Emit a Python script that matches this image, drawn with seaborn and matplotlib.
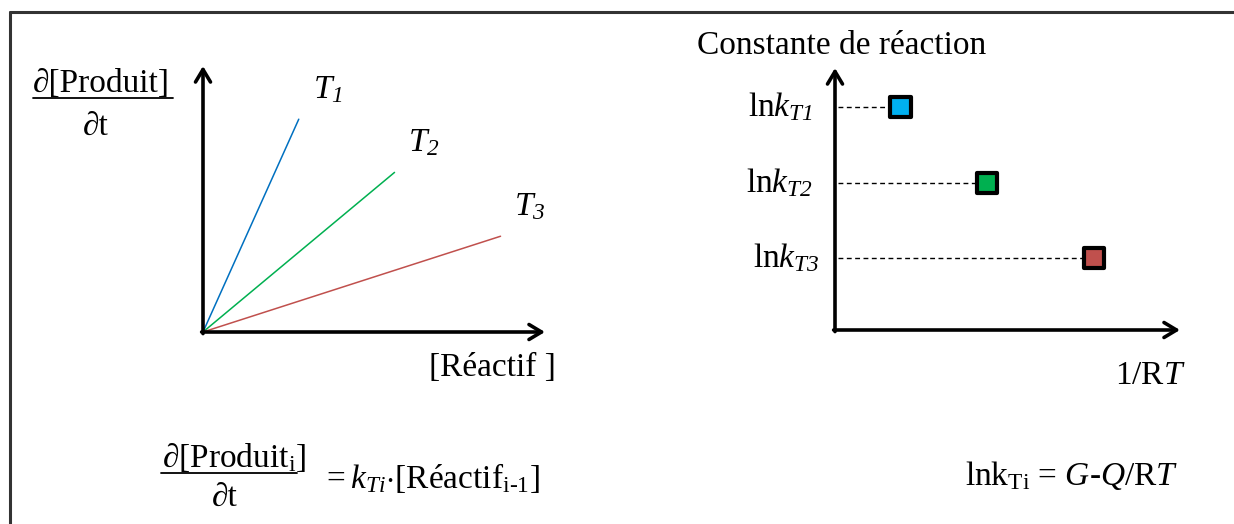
import matplotlib
matplotlib.use("Agg")
import matplotlib.pyplot as plt
from matplotlib.lines import Line2D
import seaborn as sns
import pandas as pd

# Rate of product formation vs reactant concentration (one line per temperature)
temperatures = ["T1", "T2", "T3"]
reactif_end = [0.28, 0.56, 0.87]
rate_end = [0.80, 0.60, 0.36]
line_colors = ["#0070c0", "#00b050", "#c0504d"]

# Arrhenius-type plot: ln k against 1/RT
inv_rt = [0.19, 0.44, 0.75]
ln_k = [0.85, 0.56, 0.275]
ln_k_labels = [r"ln$\mathit{k}_{\mathsf{T1}}$", r"ln$\mathit{k}_{\mathsf{T2}}$", r"ln$\mathit{k}_{\mathsf{T3}}$"]
square_colors = ["#00b0f0", "#00b050", "#c0504d"]

sns.set_theme(style="white")
plt.rcParams["font.family"] = ["Liberation Serif", "DejaVu Serif"]
plt.rcParams["text.color"] = "black"
plt.rcParams["mathtext.fontset"] = "custom"
plt.rcParams["mathtext.rm"] = "Liberation Serif"
plt.rcParams["mathtext.it"] = "Liberation Serif:italic"
# italic face that also slants digits (used for the temperature subscripts)
plt.rcParams["mathtext.sf"] = "Liberation Serif:italic"
plt.rcParams["mathtext.bf"] = "Liberation Serif:bold"

W, H = 1234, 524
fig = plt.figure(figsize=(W / 100, H / 100), dpi=100)
fig.patch.set_facecolor("white")


def px_axes(x0, y0, x1, y1):
    """Axes whose origin sits at pixel (x0, y0) and far corner at (x1, y1)."""
    return fig.add_axes([x0 / W, (H - y0) / H, (x1 - x0) / W, (y0 - y1) / H])


def arrow_axes(ax):
    style = dict(arrowstyle="->,head_length=1.0,head_width=0.6", lw=2.6, color="black",
                 shrinkA=0, shrinkB=0, mutation_scale=9)
    ax.annotate("", xy=(1.0, 0.0), xytext=(-0.004, 0.0), xycoords="axes fraction",
                arrowprops=style, annotation_clip=False)
    ax.annotate("", xy=(0.0, 1.0), xytext=(0.0, -0.006), xycoords="axes fraction",
                arrowprops=style, annotation_clip=False)
    ax.set_axis_off()


TXT = 24

# ---------- left panel ----------
axl = px_axes(203, 332, 545, 66)
rows = []
for t, xe, ye in zip(temperatures, reactif_end, rate_end):
    rows.append({"T": t, "reactif": 0.0, "rate": 0.0})
    rows.append({"T": t, "reactif": xe, "rate": ye})
df_lines = pd.DataFrame(rows)
sns.lineplot(data=df_lines, x="reactif", y="rate", hue="T", palette=line_colors,
             estimator=None, sort=False, lw=1.1, legend=False, ax=axl)
axl.set_xlim(0, 1)
axl.set_ylim(0, 1)
arrow_axes(axl)

for t, xe, ye in zip(temperatures, reactif_end, rate_end):
    axl.annotate(r"$\mathit{T}_{\mathsf{" + t[1] + "}}$", xy=(xe, ye), xytext=(21, 21),
                 textcoords="offset points", ha="center", va="center", fontsize=TXT)

fig.text(101 / W, 1 - 84 / H, "∂[Produit]", ha="center", va="center", fontsize=TXT)
fig.add_artist(Line2D([33 / W, 173 / W], [1 - 98 / H, 1 - 98 / H], color="black", lw=1.3))
fig.text(96 / W, 1 - 127 / H, "∂t", ha="center", va="center", fontsize=TXT)
fig.text(492 / W, 1 - 368 / H, "[Réactif ]", ha="center", va="center", fontsize=TXT)

# ---------- right panel ----------
axr = px_axes(835, 330, 1180, 68)
axr.set_xlim(0, 1)
axr.set_ylim(0, 1)
axr.hlines(ln_k, 0.01, inv_rt, colors="black", linestyles=(0, (3.5, 2.5)), lw=1.0, zorder=1)
df_pts = pd.DataFrame({"inv_rt": inv_rt, "ln_k": ln_k, "T": temperatures})
sns.scatterplot(data=df_pts, x="inv_rt", y="ln_k", hue="T", palette=square_colors,
                marker="s", s=210, edgecolor="black", linewidth=3.0, legend=False,
                zorder=3, ax=axr)
arrow_axes(axr)
for i, (lab, y) in enumerate(zip(ln_k_labels, ln_k)):
    dx = -0.045 if i == 2 else -0.065
    axr.text(dx, y, lab, ha="right", va="center", fontsize=TXT,
             transform=axr.get_yaxis_transform())

fig.text(842 / W, 1 - 46 / H, "Constante de réaction", ha="center", va="center", fontsize=TXT)
fig.text(1150 / W, 1 - 376 / H, "1/R$\\mathit{T}$", ha="center", va="center", fontsize=TXT)

# ---------- equations ----------
fig.text(234 / W, 1 - 458 / H, "∂[Produit$_{\\mathrm{i}}$]", ha="center", va="center", fontsize=TXT)
fig.add_artist(Line2D([161 / W, 297 / W], [1 - 473 / H, 1 - 473 / H], color="black", lw=1.3))
fig.text(225 / W, 1 - 498 / H, "∂t", ha="center", va="center", fontsize=TXT)
fig.text(322 / W, 1 - 478 / H,
         r"$=\mathit{k}_{\mathit{Ti}}$$\cdot$[Réactif$_{\mathrm{i\text{-}1}}$]",
         ha="left", va="center", fontsize=TXT)
fig.text(1072 / W, 1 - 475 / H,
         r"lnk$_{\mathrm{Ti}}$ = $\mathit{G}$-$\mathit{Q/}$R$\mathit{T}$",
         ha="center", va="center", fontsize=TXT)

# ---------- outer frame ----------
fig.add_artist(Line2D([10 / W, 1.0], [1 - 12 / H, 1 - 12 / H], color="#333333", lw=2.2))
fig.add_artist(Line2D([10 / W, 10 / W], [1 - 12 / H, 0.0], color="#333333", lw=2.2))

fig.savefig("out.png", dpi=100, facecolor="white")
